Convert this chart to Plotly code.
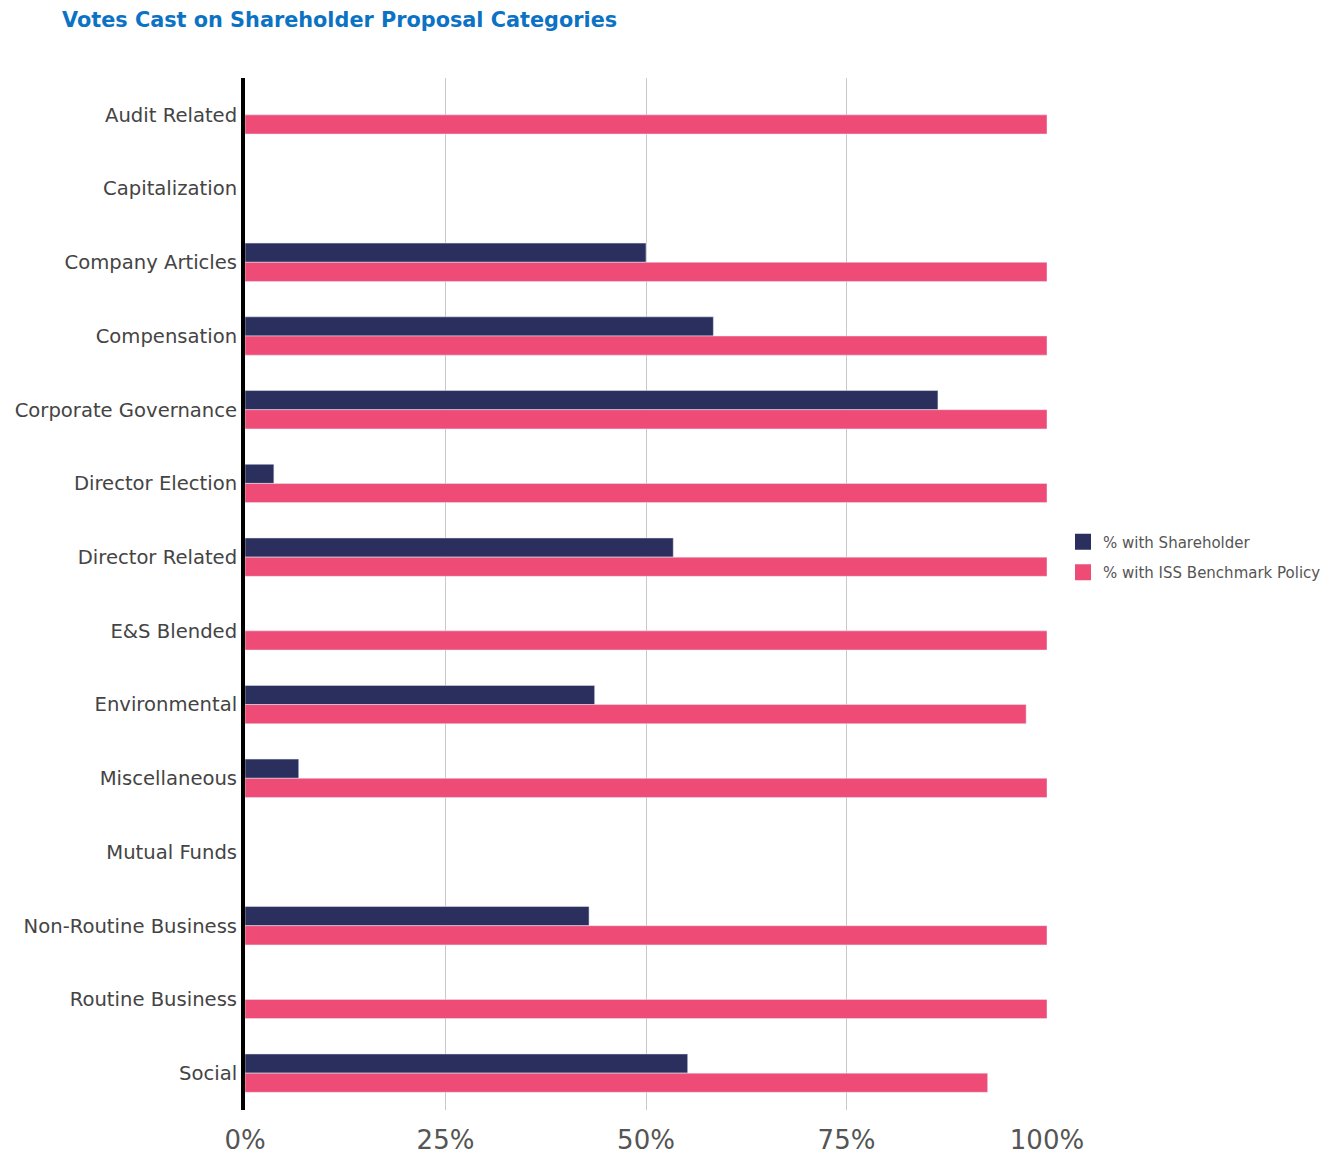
import plotly.graph_objects as go

categories = ["Audit Related", "Capitalization", "Company Articles", "Compensation",
              "Corporate Governance", "Director Election", "Director Related", "E&S Blended",
              "Environmental", "Miscellaneous", "Mutual Funds", "Non-Routine Business",
              "Routine Business", "Social"]
with_shareholder = [None, None, 50.0, 58.4, 86.4, 3.6, 53.4, None, 43.6, 6.7, None, 42.9, None, 55.2]
with_iss = [100, None, 100, 100, 100, 100, 100, 100, 97.4, 100, None, 100, 100, 92.6]
tick_vals = [0, 25, 50, 75, 100]
tick_text = ["0%", "25%", "50%", "75%", "100%"]
series_names = ["% with Shareholder", "% with ISS Benchmark Policy"]
series_colors = ["#2B2F5E", "#EE4B77"]

fig = go.Figure()
fig.add_trace(go.Bar(y=categories, x=with_shareholder, orientation="h",
                     name=series_names[0], marker_color=series_colors[0], showlegend=False))
fig.add_trace(go.Bar(y=categories, x=with_iss, orientation="h",
                     name=series_names[1], marker_color=series_colors[1], showlegend=False))
# legend entries with larger square swatches
for i, (nm, col) in enumerate(zip(series_names, series_colors)):
    fig.add_trace(go.Scatter(x=[None], y=[None], mode="markers", name=nm,
                             legendgroup="g%d" % i,
                             marker=dict(symbol="square", size=17, color=col)))

# page body has an 8px margin; figure coordinates are offset accordingly
OFF = 8
W, H = 1340 - OFF, 1160 - OFF
L = 245 - OFF
T = 78 - OFF
PR = 1047 - OFF
PB = 1110 - OFF
R = W - PR
B = H - PB
fig.update_layout(
    width=W, height=H,
    paper_bgcolor="white", plot_bgcolor="white",
    barmode="group", bargap=0.48, bargroupgap=0,
    margin=dict(l=L, r=R, t=T, b=B, autoexpand=False),
    title=dict(text="<b>Votes Cast on Shareholder Proposal Categories</b>",
               xref="container", yref="container",
               x=(62 - OFF)/W, xanchor="left", y=1-(20 - OFF)/H, yanchor="middle",
               pad=dict(l=0, r=0, t=0, b=0), automargin=False,
               font=dict(family="DejaVu Sans", size=20.8, color="#0B72C4")),
    legend=dict(x=(1063 - OFF - L)/(PR - L), xanchor="left",
                y=(PB - (557 - OFF))/(PB - T), yanchor="middle",
                font=dict(family="DejaVu Sans", size=15, color="#555555"),
                traceorder="grouped", tracegroupgap=8, itemsizing="trace",
                bgcolor="rgba(0,0,0,0)"),
    showlegend=True,
)
fig.update_xaxes(range=[0, 100], tickvals=tick_vals, ticktext=tick_text,
                 showgrid=True, gridcolor="#C8C8C8", gridwidth=1,
                 zeroline=False, showline=False, automargin=False,
                 tickfont=dict(family="DejaVu Sans", size=26, color="#555555"),
                 ticks="", ticklabelstandoff=12)
fig.update_yaxes(autorange="reversed", showline=True, linecolor="black", linewidth=4,
                 automargin=False,
                 tickfont=dict(family="DejaVu Sans", size=19.6, color="#444444"),
                 ticks="", ticklabelstandoff=0, showgrid=False)

fig.write_html("out.html")
